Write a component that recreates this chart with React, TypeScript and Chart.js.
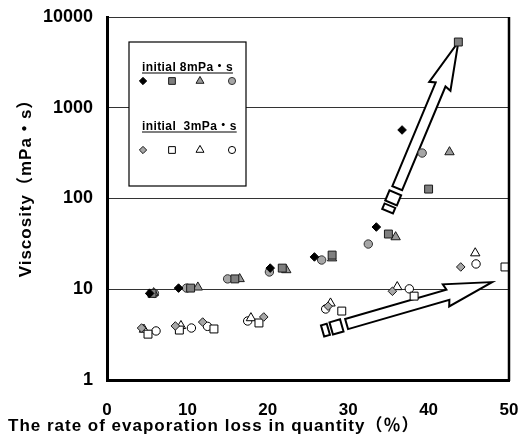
import React, { useEffect, useRef } from 'react';
import { Chart, registerables } from 'chart.js';
Chart.register(...registerables);

// ---- data (x: evaporation loss %, y: viscosity mPa·s) ----
const xTickValues = [0, 10, 20, 30, 40, 50];
const yTickValues = [1, 10, 100, 1000, 10000];

const i8Diamond = [[5.3, 9.0], [8.9, 10.3], [20.3, 17.1], [25.8, 22.7], [33.5, 48.5], [36.7, 569]];
const i8Square = [[5.6, 9.0], [10.4, 10.3], [15.9, 13.0], [21.8, 17.1], [28.0, 23.8], [35.0, 40.6], [40.0, 127], [43.7, 5300]];
const i8Triangle = [[5.8, 9.1], [11.3, 10.5], [16.5, 13.0], [22.3, 16.3], [28.0, 22.0], [35.9, 37.6], [42.6, 325]];
const i8Circle = [[5.9, 9.0], [9.9, 10.3], [15.0, 13.0], [20.2, 15.5], [26.7, 21.0], [32.5, 31.5], [39.2, 317]];

const i3Diamond = [[4.3, 3.74], [8.5, 3.94], [11.9, 4.35], [19.5, 4.95], [27.5, 6.5], [35.5, 9.5], [44.0, 17.6]];
const i3Square = [[5.1, 3.2], [9.0, 3.55], [13.3, 3.65], [18.9, 4.25], [29.2, 5.75], [38.2, 8.4], [49.5, 17.6]];
const i3Triangle = [[4.6, 3.6], [9.2, 3.95], [17.9, 4.82], [27.8, 7.0], [36.1, 10.6], [45.8, 25.0]];
const i3Circle = [[6.1, 3.47], [10.5, 3.74], [12.5, 3.9], [17.5, 4.47], [27.2, 6.06], [37.6, 10.1], [45.9, 19.0]];

// annotation arrows (from -> to, in data units)
const arrowUp = { from: [36.1, 130], to: [43.7, 5300] };
const arrowRight = { from: [29.8, 4.14], to: [47.9, 12.0] };

const legendTitle8 = 'initial 8mPa・s';
const legendTitle3 = 'initial  3mPa・s';
const xTitle = 'The rate of evaporation loss in quantity（％）';
const yTitle = 'Viscosity（mPa・s）';

const FONT = '"Liberation Sans", "Noto Sans CJK JP", sans-serif';

const toXY = (arr: number[][]) => arr.map(([x, y]) => ({ x, y }));

type Style = { pointStyle: string; r: number; fill: string; stroke: string };
const styles: Style[] = [
  { pointStyle: 'rectRot', r: 4.3, fill: '#000000', stroke: '#000000' },
  { pointStyle: 'rect', r: 5.6, fill: '#7f7f7f', stroke: '#1a1a1a' },
  { pointStyle: 'triangle', r: 5.4, fill: '#9a9a9a', stroke: '#1a1a1a' },
  { pointStyle: 'circle', r: 4.2, fill: '#a6a6a6', stroke: '#333333' },
  { pointStyle: 'rectRot', r: 4.3, fill: '#a6a6a6', stroke: '#1a1a1a' },
  { pointStyle: 'rect', r: 5.6, fill: '#ffffff', stroke: '#000000' },
  { pointStyle: 'triangle', r: 5.4, fill: '#ffffff', stroke: '#000000' },
  { pointStyle: 'circle', r: 4.2, fill: '#ffffff', stroke: '#000000' },
];
const seriesData = [i8Diamond, i8Square, i8Triangle, i8Circle, i3Diamond, i3Square, i3Triangle, i3Circle];
const seriesNames = ['8 diamond', '8 square', '8 triangle', '8 circle', '3 diamond', '3 square', '3 triangle', '3 circle'];

function drawMarker(ctx: CanvasRenderingContext2D, s: Style, x: number, y: number) {
  ctx.save();
  ctx.fillStyle = s.fill;
  ctx.strokeStyle = s.stroke;
  ctx.lineWidth = 1;
  ctx.beginPath();
  const r = s.r;
  if (s.pointStyle === 'rectRot') {
    ctx.moveTo(x, y - r); ctx.lineTo(x + r, y); ctx.lineTo(x, y + r); ctx.lineTo(x - r, y); ctx.closePath();
  } else if (s.pointStyle === 'rect') {
    const h = r * Math.SQRT1_2;
    ctx.rect(x - h, y - h, 2 * h, 2 * h);
  } else if (s.pointStyle === 'triangle') {
    const a = (2 * Math.PI) / 3;
    ctx.moveTo(x, y - r);
    ctx.lineTo(x + Math.sin(a) * r, y - Math.cos(a) * r);
    ctx.lineTo(x + Math.sin(2 * a) * r, y - Math.cos(2 * a) * r);
    ctx.closePath();
  } else {
    ctx.arc(x, y, r, 0, Math.PI * 2);
  }
  ctx.fill();
  ctx.stroke();
  ctx.restore();
}

function drawArrow(ctx: CanvasRenderingContext2D, bx: number, by: number, tx: number, ty: number) {
  const dx = tx - bx, dy = ty - by;
  const len = Math.hypot(dx, dy);
  const ux = dx / len, uy = dy / len;
  const nx = -uy, ny = ux;
  const P = (s: number, t: number) => [bx + ux * s + nx * t, by + uy * s + ny * t];
  const hs = 5.3, hh = 11.5, L = 46;
  const poly = (pts: number[][]) => {
    ctx.beginPath();
    pts.forEach((p, i) => (i === 0 ? ctx.moveTo(p[0], p[1]) : ctx.lineTo(p[0], p[1])));
    ctx.closePath();
    ctx.fill();
    ctx.stroke();
  };
  ctx.save();
  ctx.fillStyle = '#ffffff';
  ctx.strokeStyle = '#000000';
  ctx.lineWidth = 2;
  ctx.lineJoin = 'miter';
  poly([P(0, -hs), P(len - L, -hs), P(len - L - 2, -hh), P(len, 0), P(len - L - 2, hh), P(len - L, hs), P(0, hs)]);
  const rects = [[-16, -5, 6.3], [-25, -19, 5.8]];
  rects.forEach(([s0, s1, w]) => poly([P(s0, -w), P(s1, -w), P(s1, w), P(s0, w)]));
  ctx.restore();
}

const decorPlugin = {
  id: 'decor',
  beforeDatasetsDraw(chart: any) {
    const { ctx, scales } = chart;
    const x = scales.x, y = scales.y;
    [arrowUp, arrowRight].forEach((a) => {
      drawArrow(ctx, x.getPixelForValue(a.from[0]), y.getPixelForValue(a.from[1]), x.getPixelForValue(a.to[0]), y.getPixelForValue(a.to[1]));
    });
  },
  afterDatasetsDraw(chart: any) {
    const { ctx, chartArea } = chart;
    const { left, top, right, bottom } = chartArea;
    ctx.save();
    // right border
    ctx.strokeStyle = '#000';
    ctx.lineWidth = 2.5;
    ctx.beginPath();
    ctx.moveTo(right, top);
    ctx.lineTo(right, bottom + 1);
    ctx.stroke();

    // legend box
    const lx = left + 22, ly = top + 25, lw = 117, lh = 144;
    ctx.fillStyle = '#fff';
    ctx.fillRect(lx, ly, lw, lh);
    ctx.lineWidth = 1.2;
    ctx.strokeStyle = '#000';
    ctx.strokeRect(lx, ly, lw, lh);

    ctx.fillStyle = '#000';
    ctx.font = `bold 12px ${FONT}`;
    ctx.textAlign = 'left';
    ctx.textBaseline = 'alphabetic';
    const drawTitle = (t: string, tx0: number, ty0: number) => {
      ctx.fillText(t, tx0, ty0);
      const w = ctx.measureText(t).width;
      ctx.lineWidth = 1.2;
      ctx.beginPath();
      ctx.moveTo(tx0, ty0 + 2);
      ctx.lineTo(tx0 + w, ty0 + 2);
      ctx.stroke();
    };
    (ctx as any).letterSpacing = '0.4px';
    drawTitle(legendTitle8, lx + 13, ly + 29);
    drawTitle(legendTitle3, lx + 13, ly + 88);
    (ctx as any).letterSpacing = '0px';
    const cols = [lx + 14, lx + 43, lx + 71, lx + 103];
    for (let i = 0; i < 4; i++) {
      drawMarker(ctx, { ...styles[i], r: styles[i].r * 0.85 }, cols[i], ly + 39);
      drawMarker(ctx, { ...styles[i + 4], r: styles[i + 4].r * 0.85 }, cols[i], ly + 108);
    }

    // axis titles
    ctx.font = `bold 17px ${FONT}`;
    (ctx as any).letterSpacing = '1px';
    ctx.fillStyle = '#000';
    ctx.textAlign = 'left';
    ctx.fillText(xTitle, 8, 431);
    ctx.save();
    ctx.translate(31, 184);
    ctx.rotate(-Math.PI / 2);
    ctx.font = `bold 17px ${FONT}`;
    (ctx as any).letterSpacing = '1px';
    ctx.textAlign = 'center';
    ctx.fillText(yTitle, 0, 0);
    ctx.restore();
    (ctx as any).letterSpacing = '0px';
    ctx.restore();
  },
};

export default function App() {
  const ref = useRef<HTMLCanvasElement>(null);
  useEffect(() => {
    if (!ref.current) return;
    const datasets = seriesData.map((d, i) => ({
      label: seriesNames[i],
      data: toXY(d),
      pointStyle: styles[i].pointStyle,
      pointRadius: styles[i].r,
      pointBackgroundColor: styles[i].fill,
      pointBorderColor: styles[i].stroke,
      pointBorderWidth: 1,
      showLine: false,
    }));
    const chart = new Chart(ref.current, {
      type: 'scatter',
      data: { datasets },
      plugins: [decorPlugin],
      options: {
        responsive: false,
        animation: false,
        devicePixelRatio: 1,
        layout: { padding: { top: 17, right: 17, left: 0, bottom: 0 } },
        plugins: { legend: { display: false }, tooltip: { enabled: false } },
        scales: {
          x: {
            type: 'linear',
            min: 0,
            max: 50,
            afterBuildTicks: (s: any) => { s.ticks = xTickValues.map((v) => ({ value: v })); },
            afterFit: (s: any) => { s.height = 62; s.paddingLeft = 0; s.paddingRight = 0; },
            grid: { display: false, drawTicks: false },
            border: { display: true, color: '#000', width: 3 },
            ticks: { color: '#000', font: { family: FONT, size: 17, weight: 'bold' }, padding: 20, maxRotation: 0 },
          },
          y: {
            type: 'logarithmic',
            min: 1,
            max: 10000,
            afterBuildTicks: (s: any) => { s.ticks = yTickValues.map((v) => ({ value: v })); },
            afterFit: (s: any) => { s.width = 107; s.paddingTop = 0; s.paddingBottom = 0; },
            grid: { color: '#333', lineWidth: 1, drawTicks: false },
            border: { display: true, color: '#000', width: 3 },
            ticks: {
              color: '#000',
              font: { family: FONT, size: 18, weight: 'bold' },
              padding: 14,
              callback: (v: any) => String(v),
            },
          },
        },
      } as any,
    });
    return () => chart.destroy();
  }, []);
  return (
    <div style={{ position: 'absolute', left: 0, top: 0, width: 526, height: 442, background: '#fff' }}>
      <canvas ref={ref} width={526} height={442} style={{ width: 526, height: 442 }} />
    </div>
  );
}
